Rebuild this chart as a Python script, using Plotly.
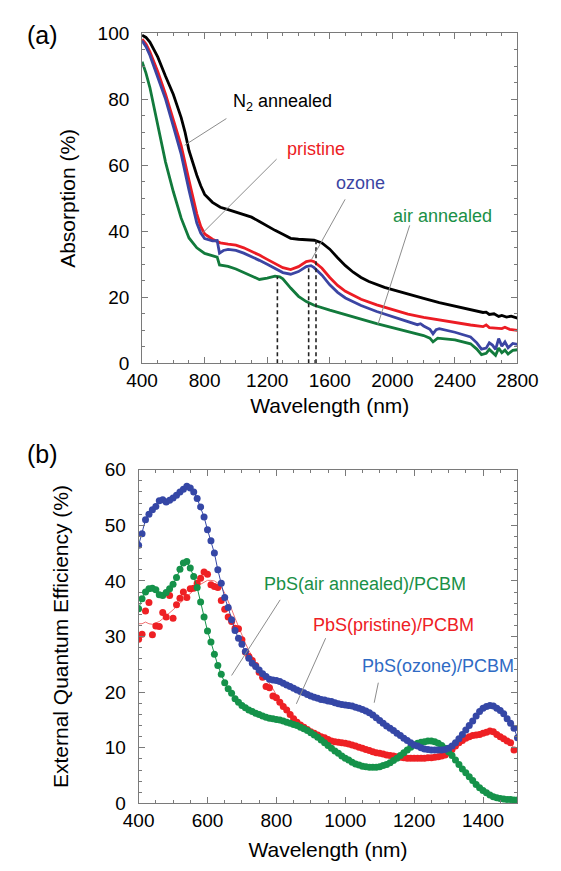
import plotly.graph_objects as go

# ---------------- Panel (a): absorption ----------------
n2_wl = [400, 425, 450, 500, 550, 600, 650, 675, 700, 725, 750, 775, 800, 850, 900, 950, 1000, 1050,
         1100, 1150, 1200, 1250, 1300, 1350, 1400, 1450, 1500, 1550, 1600, 1650, 1700, 1750, 1800,
         1850, 1900, 1950, 2000, 2100, 2200, 2300, 2400, 2500, 2550, 2580, 2600, 2620, 2650, 2680,
         2700, 2730, 2760, 2800]
n2_abs = [99.5, 98.8, 97.4, 92.9, 87.0, 81.5, 74.5, 70.0, 64.5, 60.5, 57.0, 53.8, 51.2, 48.8, 47.3,
          46.6, 45.9, 45.2, 44.3, 43.0, 41.6, 40.3, 39.1, 37.9, 37.6, 37.5, 37.3, 36.5, 34.6, 32.0,
          29.6, 27.6, 26.0, 24.8, 23.8, 23.0, 22.3, 20.9, 19.7, 18.4, 17.3, 16.3, 15.8, 15.4, 15.5,
          14.8, 15.0, 14.2, 14.5, 14.0, 14.3, 13.7]

pr_wl = [400, 425, 450, 500, 550, 600, 650, 700, 725, 750, 775, 800, 850, 900, 950, 1000, 1050, 1100,
         1150, 1200, 1250, 1300, 1350, 1400, 1450, 1480, 1500, 1550, 1600, 1650, 1700, 1750, 1800,
         1900, 2000, 2100, 2200, 2300, 2400, 2500, 2580, 2600, 2620, 2700, 2720, 2750, 2800]
pr_abs = [98.3, 96.8, 94.4, 88.5, 81.6, 73.7, 66.0, 55.5, 50.0, 45.3, 41.5, 39.2, 37.6, 36.5, 36.1,
          35.8, 35.0, 34.0, 32.8, 31.5, 30.2, 29.0, 28.4, 29.3, 30.8, 31.1, 30.8, 28.8, 26.0, 23.6,
          21.8, 20.5, 19.4, 17.7, 16.2, 14.9, 13.9, 13.1, 12.3, 11.6, 11.1, 11.6, 10.8, 10.5, 10.9,
          10.3, 10.0]

oz_wl = [400, 425, 450, 500, 550, 600, 650, 700, 725, 750, 775, 800, 850, 880, 895, 920, 950, 1000,
         1050, 1100, 1150, 1200, 1250, 1300, 1350, 1400, 1450, 1480, 1500, 1550, 1600, 1650, 1700,
         1800, 1900, 2000, 2100, 2160, 2180, 2200, 2240, 2260, 2280, 2300, 2400, 2500, 2540, 2570,
         2600, 2620, 2640, 2660, 2680, 2700, 2720, 2740, 2770, 2800]
oz_abs = [97.8, 96.0, 93.4, 87.0, 80.1, 71.8, 63.4, 52.5, 47.0, 42.5, 39.5, 37.8, 37.1, 37.2, 33.4,
          34.2, 34.5, 34.2, 33.4, 32.4, 31.2, 30.0, 28.7, 27.5, 27.0, 27.8, 29.3, 29.6, 29.0, 26.7,
          23.8, 21.5, 19.8, 17.5, 15.7, 14.1, 12.6, 11.7, 12.0, 11.3, 10.3, 8.9, 10.2, 10.5, 9.4,
          8.0, 6.2, 4.3, 4.6, 6.2, 5.5, 4.2, 7.5, 5.2, 6.5, 4.7, 6.0, 5.7]

air_wl = [400, 425, 450, 500, 550, 600, 650, 700, 750, 800, 850, 880, 895, 920, 950, 1000, 1050, 1100,
          1150, 1200, 1250, 1280, 1300, 1350, 1400, 1450, 1500, 1600, 1700, 1800, 1900, 2000, 2100,
          2200, 2240, 2260, 2290, 2400, 2500, 2540, 2570, 2600, 2620, 2640, 2660, 2680, 2700, 2720,
          2740, 2770, 2800]
air_abs = [91.4, 88.0, 83.6, 71.8, 61.0, 52.0, 44.0, 38.0, 35.0, 33.3, 32.6, 32.2, 29.8, 29.7, 29.4,
           28.6, 27.6, 26.4, 25.4, 25.8, 26.4, 26.2, 25.6, 22.8, 20.3, 18.7, 17.6, 16.1, 14.7, 13.3,
           12.0, 10.8, 9.6, 8.4, 7.6, 6.5, 7.6, 7.1, 5.9, 4.3, 2.6, 3.0, 4.2, 3.3, 2.4, 4.6, 3.2,
           4.0, 2.8, 3.9, 4.1]

peak_wl = [1265, 1465, 1512]
peak_top = [26.3, 29.7, 37.2]

a_labels = ["N<sub>2</sub> annealed", "pristine", "ozone", "air annealed"]
a_label_x = [971, 1313, 1630, 1991]
a_label_y = [79.2, 65.1, 54.6, 44.5]
a_lead_x0 = [672, 789, 1484, 1908]
a_lead_y0 = [66.1, 39.6, 31.5, 11.8]
a_lead_x1 = [939, 1260, 1698, 2111]
a_lead_y1 = [74.2, 61.9, 49.7, 41.8]

# ---------------- Panel (b): EQE ----------------
wl_b = list(range(400, 1501, 10))
eqe_ozone = [46.4, 48.5, 51.0, 52.0, 52.8, 53.4, 54.4, 54.6, 54.2, 54.5, 54.9, 55.4, 56.0, 56.5, 57.0,
             56.7, 56.0, 54.8, 53.3, 51.5, 49.2, 47.2, 45.0, 42.0, 39.6, 37.0, 35.2, 33.0, 31.1, 29.7,
             28.6, 27.3, 26.1, 25.2, 24.6, 24.0, 23.3, 22.8, 22.3, 22.2, 22.1, 21.9, 21.6, 21.3, 21.0,
             20.7, 20.4, 20.1, 19.9, 19.6, 19.3, 19.1, 18.9, 18.7, 18.6, 18.4, 18.3, 18.1, 17.9, 17.8,
             17.7, 17.6, 17.5, 17.3, 17.1, 16.9, 16.6, 16.3, 15.9, 15.4, 14.9, 14.4, 13.9, 13.5, 13.1,
             12.6, 12.2, 11.7, 11.3, 10.9, 10.5, 10.3, 10.0, 9.8, 9.7, 9.6, 9.6, 9.6, 9.6, 9.7,
             9.9, 10.3, 10.9, 11.6, 12.4, 13.2, 14.0, 14.8, 15.7, 16.5, 17.1, 17.4, 17.6, 17.5, 17.1,
             16.7, 16.1, 15.2, 14.4, 13.5, 11.8]
eqe_air = [35.0, 36.8, 38.0, 38.6, 38.7, 38.4, 37.5, 37.4, 37.9, 38.6, 39.4, 40.6, 42.1, 43.2, 43.5,
           42.3, 40.8, 38.8, 36.2, 33.5, 31.0, 29.0, 26.8, 24.8, 23.2, 21.7, 20.6, 19.8, 18.8, 18.2,
           17.6, 17.2, 16.8, 16.5, 16.2, 16.0, 15.7, 15.5, 15.3, 15.2, 15.1, 15.0, 14.8, 14.6, 14.4,
           14.2, 14.0, 13.7, 13.4, 13.1, 12.7, 12.3, 11.9, 11.4, 10.9, 10.4, 9.9, 9.4, 9.0, 8.5,
           8.1, 7.8, 7.4, 7.1, 6.9, 6.7, 6.6, 6.5, 6.5, 6.5, 6.6, 6.8, 7.0, 7.3, 7.7,
           8.1, 8.6, 9.1, 9.6, 10.1, 10.5, 10.8, 11.0, 11.1, 11.2, 11.2, 11.1, 10.8, 10.4, 9.9,
           9.3, 8.6, 7.8, 7.0, 6.2, 5.5, 4.8, 4.1, 3.4, 2.8, 2.3, 1.9, 1.5, 1.2, 1.0,
           0.9, 0.8, 0.7, 0.7, 0.6, 0.6]
eqe_pristine = [29.5, 30.4, 34.6, 36.1, 30.3, 31.9, 31.8, 34.3, 33.5, 37.4, 33.3, 35.7, 36.9, 38.0, 37.0,
                38.6, 38.7, 39.6, 40.5, 41.6, 41.2, 39.3, 39.0, 38.8, 36.5, 34.9, 33.5, 32.7, 31.5, 31.4,
                29.4, 27.2, 26.4, 25.7, 24.8, 23.6, 22.7, 21.0, 20.8, 19.3, 19.0, 18.2, 17.4, 16.8, 16.0,
                15.2, 14.6, 14.1, 13.7, 13.3, 12.9, 12.6, 12.3, 12.0, 11.8, 11.5, 11.2, 11.1, 11.0, 10.9,
                10.8, 10.7, 10.5, 10.3, 10.1, 9.9, 9.7, 9.5, 9.3, 9.1, 9.0, 8.9, 8.7, 8.6, 8.5,
                8.4, 8.3, 8.2, 8.1, 8.1, 8.1, 8.1, 8.1, 8.1, 8.2, 8.2, 8.3, 8.4, 8.5, 8.7,
                9.1, 9.7, 10.3, 10.9, 11.3, 11.7, 12.0, 12.2, 12.3, 12.4, 12.6, 12.8, 13.0, 12.9, 12.4,
                12.0, 11.6, 11.2, 10.9, 9.6]
# smoothed thin red guide line over the noisy short-wavelength part (400-800 nm)
pristine_smooth = [32.3, 32.3, 32.6, 32.3, 32.2, 32.4, 32.7, 33.2, 33.7, 34.3, 34.8, 35.4, 36.0, 36.6,
                   37.2, 37.8, 38.3, 38.9, 39.4, 39.8, 40.1, 40.1, 40.0, 39.6, 38.9, 37.8, 36.5, 34.9,
                   33.3, 31.7, 30.2, 28.8, 27.5, 26.3, 25.3, 24.4, 23.5, 22.6, 21.7, 20.6, 19.5]

b_labels = ["PbS(air annealed)/PCBM", "PbS(pristine)/PCBM", "PbS(ozone)/PCBM"]
b_label_x = [758, 901, 1043]
b_label_y = [39.4, 32.1, 24.7]
b_lead_x0 = [670, 858, 1084]
b_lead_y0 = [23.0, 17.9, 18.1]
b_lead_x1 = [811, 943, 1096]
b_lead_y1 = [36.6, 29.7, 21.7]

# ---------------- styles ----------------
FONT = "Liberation Sans, Arial, sans-serif"
BLACK, RED, BLUE, GREEN = "#000000", "#ec1c24", "#3b45a3", "#127a3c"
RED_B, BLUE_B, GREEN_B = "#ee2024", "#3547a6", "#15924a"
BLUE_TXT, GREEN_TXT = "#2f6bc4", "#1a9046"
GRAY = "#8c8c8c"
AXC = "#7a7a7a"

fig = go.Figure()

for wl, vals, col in [(n2_wl, n2_abs, BLACK), (pr_wl, pr_abs, RED), (oz_wl, oz_abs, BLUE), (air_wl, air_abs, GREEN)]:
    fig.add_trace(go.Scatter(x=wl, y=vals, mode="lines", line=dict(color=col, width=2.8),
                             xaxis="x", yaxis="y", showlegend=False))

for w, t in zip(peak_wl, peak_top):
    fig.add_trace(go.Scatter(x=[w, w], y=[0, t], mode="lines", line=dict(color="#222", width=1.6, dash="4px,3px"),
                             xaxis="x", yaxis="y", showlegend=False))

# panel b
fig.add_trace(go.Scatter(x=wl_b, y=pristine_smooth + eqe_pristine[len(pristine_smooth):],
                         mode="lines", line=dict(color="#f07070", width=1),
                         xaxis="x2", yaxis="y2", showlegend=False))
fig.add_trace(go.Scatter(x=wl_b, y=eqe_pristine, mode="markers", marker=dict(color=RED_B, size=7),
                         xaxis="x2", yaxis="y2", showlegend=False))
fig.add_trace(go.Scatter(x=wl_b, y=eqe_air, mode="lines+markers", line=dict(color=GREEN_B, width=1),
                         marker=dict(color=GREEN_B, size=7), xaxis="x2", yaxis="y2", showlegend=False))
fig.add_trace(go.Scatter(x=wl_b, y=eqe_ozone, mode="lines+markers", line=dict(color=BLUE_B, width=1),
                         marker=dict(color=BLUE_B, size=7), xaxis="x2", yaxis="y2", showlegend=False))

shapes = []
for x0, y0, x1, y1 in zip(a_lead_x0, a_lead_y0, a_lead_x1, a_lead_y1):
    shapes.append(dict(type="line", xref="x", yref="y", x0=x0, y0=y0, x1=x1, y1=y1,
                       line=dict(color=GRAY, width=1)))
for x0, y0, x1, y1 in zip(b_lead_x0, b_lead_y0, b_lead_x1, b_lead_y1):
    shapes.append(dict(type="line", xref="x2", yref="y2", x0=x0, y0=y0, x1=x1, y1=y1,
                       line=dict(color=GRAY, width=1)))

annotations = []
for txt, x, y, col in zip(a_labels, a_label_x, a_label_y, [BLACK, RED, BLUE, GREEN_TXT]):
    annotations.append(dict(text=txt, x=x, y=y, xref="x", yref="y", xanchor="left", yanchor="middle",
                            showarrow=False, font=dict(family=FONT, size=18, color=col)))
for txt, x, y, col in zip(b_labels, b_label_x, b_label_y, [GREEN_TXT, RED_B, BLUE_TXT]):
    annotations.append(dict(text=txt, x=x, y=y, xref="x2", yref="y2", xanchor="left", yanchor="middle",
                            showarrow=False, font=dict(family=FONT, size=18, color=col)))
annotations.append(dict(text="(a)", x=0.018, y=0.99, xref="paper", yref="paper", xanchor="left",
                        yanchor="top", showarrow=False, font=dict(family=FONT, size=25, color="black")))
annotations.append(dict(text="(b)", x=0.018, y=0.497, xref="paper", yref="paper", xanchor="left",
                        yanchor="top", showarrow=False, font=dict(family=FONT, size=25, color="black")))

axis_common = dict(showline=True, linecolor=AXC, linewidth=1, mirror="ticks", ticks="inside",
                   ticklen=6, tickcolor=AXC, showgrid=False, zeroline=False,
                   tickfont=dict(family=FONT, size=19, color="black"))
title_font = dict(family=FONT, size=21, color="black")

fig.update_layout(
    width=561, height=871, margin=dict(l=0, r=0, t=0, b=0),
    paper_bgcolor="white", plot_bgcolor="white",
    xaxis=dict(**axis_common, domain=[0.2406, 0.957], range=[400, 2800], dtick=400, tick0=400,
               anchor="y",
               minor=dict(dtick=100, ticks="inside", ticklen=3, tickcolor=AXC),
               title=dict(text="Wavelength (nm)", font=title_font, standoff=8)),
    yaxis=dict(**axis_common, domain=[0.5844, 0.9724], range=[0, 100], dtick=20, anchor="x",
               ticklabelstandoff=8,
               minor=dict(dtick=5, ticks="inside", ticklen=3, tickcolor=AXC),
               title=dict(text="Absorption (%)", font=title_font, standoff=16)),
    xaxis2=dict(**axis_common, domain=[0.234, 0.957], range=[400, 1500], dtick=200, tick0=400,
                anchor="y2",
                minor=dict(dtick=50, ticks="inside", ticklen=3, tickcolor=AXC),
                title=dict(text="Wavelength (nm)", font=title_font, standoff=12)),
    yaxis2=dict(**axis_common, domain=[0.0666, 0.4592], range=[0, 60], dtick=10, anchor="x2",
                ticklabelstandoff=8,
                minor=dict(dtick=2, ticks="inside", ticklen=3, tickcolor=AXC),
                title=dict(text="External Quantum Efficiency (%)", font=title_font, standoff=30)),
    shapes=shapes, annotations=annotations,
)

fig.write_html("out.html")
